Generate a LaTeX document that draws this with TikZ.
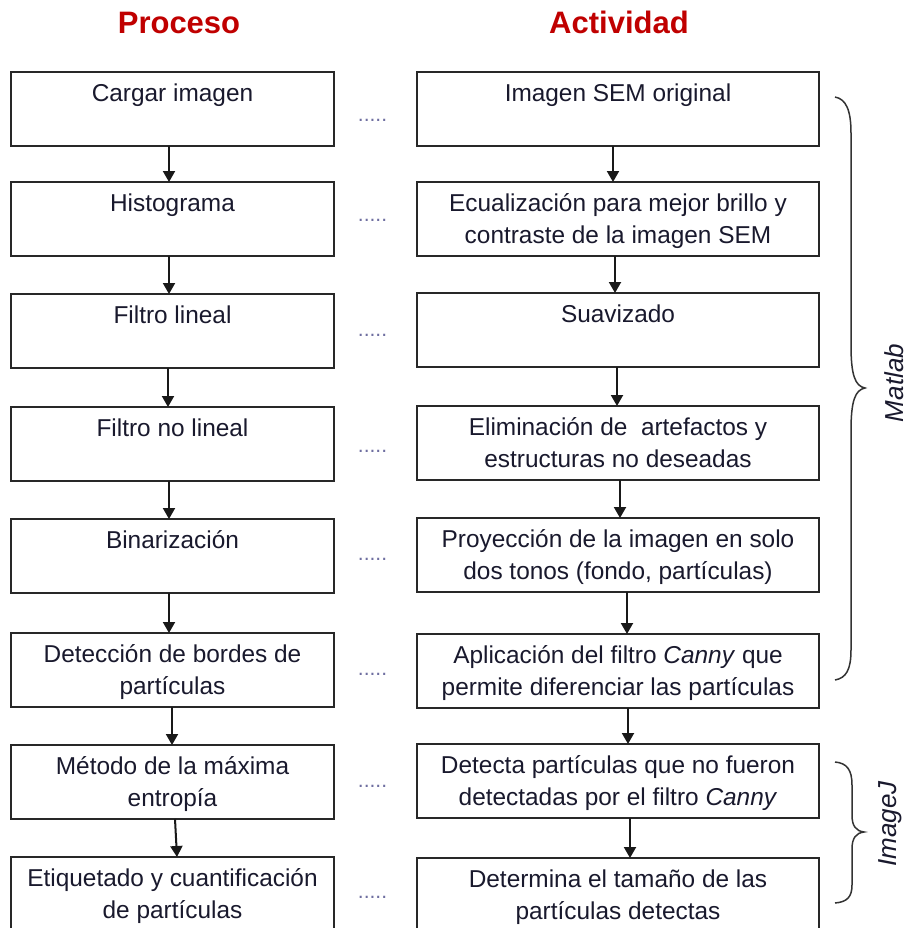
\documentclass[tikz,border=0pt]{standalone}
\usepackage{fontspec}
\setmainfont{Liberation Sans}
\usetikzlibrary{arrows.meta}
\definecolor{titlered}{RGB}{192,0,0}
\definecolor{boxline}{RGB}{40,40,40}
\definecolor{txt}{RGB}{25,25,45}
\definecolor{dotc}{RGB}{110,110,160}
\newcommand\bt[2]{\parbox[c][37pt][t]{#1}{\centering\fontsize{12.2pt}{16pt}\selectfont\rule{0pt}{14.8pt}#2\par}}
\newcommand\lt[1]{\bt{161.5pt}{#1}}
\newcommand\rt[1]{\bt{201pt}{#1}}
\tikzset{
  box/.style={draw=boxline, line width=1pt, inner sep=0pt, outer sep=0pt, text=txt, fill=white},
  arr/.style={-{Triangle[width=6pt,length=5.5pt]}, line width=1pt, draw=black!90},
  ttl/.style={anchor=base, text=titlered, font=\fontsize{15.5pt}{18pt}\selectfont\bfseries},
  dots/.style={anchor=base, text=dotc, font=\fontsize{10.5pt}{12pt}\selectfont, inner sep=0pt},
  brc/.style={draw=black!80, line width=0.75pt},
  tool/.style={anchor=base, rotate=90, inner sep=0pt, text=txt, font=\fontsize{13pt}{15pt}\selectfont\itshape}
}
\begin{document}
\begin{tikzpicture}[x=0.5pt,y=-0.5pt]
\useasboundingbox (0,0) rectangle (906,928);
\fill[white] (0,0) rectangle (906,928);

% titles
\node[ttl] (tp) at (179,33) {Proceso};
\node[ttl] (ta) at (619,33) {Actividad};

% left column
\node[box] (l1) at (172.5,109) {\lt{Cargar imagen}};
\node[box] (l2) at (172.5,219) {\lt{Histograma}};
\node[box] (l3) at (172.5,331) {\lt{Filtro lineal}};
\node[box] (l4) at (172.5,444) {\lt{Filtro no lineal}};
\node[box] (l5) at (172.5,556) {\lt{Binarización}};
\node[box] (l6) at (172.5,670) {\lt{Detección de bordes de\\partículas}};
\node[box] (l7) at (172.5,782) {\lt{Método de la máxima\\entropía}};
\node[box] (l8) at (172.5,894) {\lt{Etiquetado y cuantificación\\de partículas}};

% right column
\node[box] (r1) at (618,109) {\rt{Imagen SEM original}};
\node[box] (r2) at (618,219) {\rt{Ecualización para mejor brillo y\\contraste de la imagen SEM}};
\node[box] (r3) at (618,330) {\rt{Suavizado}};
\node[box] (r4) at (618,443) {\rt{Eliminación de\ \ artefactos y\\estructuras no deseadas}};
\node[box] (r5) at (618,555) {\rt{Proyección de la imagen en solo\\dos tonos (fondo, partículas)}};
\node[box] (r6) at (618,671) {\rt{Aplicación del filtro \textit{Canny} que\\permite diferenciar las partículas}};
\node[box] (r7) at (618,781) {\rt{Detecta partículas que no fueron\\detectadas por el filtro \textit{Canny}}};
\node[box] (r8) at (618,895) {\rt{Determina el tamaño de las\\partículas detectas}};

% dotted separators
\node[dots] (d1) at (372.5,121) {.....};
\node[dots] (d2) at (372.5,221) {.....};
\node[dots] (d3) at (372.5,336) {.....};
\node[dots] (d4) at (372.5,452) {.....};
\node[dots] (d5) at (372.5,560) {.....};
\node[dots] (d6) at (372.5,675) {.....};
\node[dots] (d7) at (372.5,787) {.....};
\node[dots] (d8) at (372.5,898) {.....};

% left arrows
\draw[arr] ([xshift=-1.75pt]l1.south) -- ([xshift=-1.75pt]l2.north);
\draw[arr] ([xshift=-1.75pt]l2.south) -- ([xshift=-1.75pt]l3.north);
\draw[arr] ([xshift=-2.25pt]l3.south) -- ([xshift=-2.25pt]l4.north);
\draw[arr] ([xshift=-1.75pt]l4.south) -- ([xshift=-1.75pt]l5.north);
\draw[arr] ([xshift=-1.75pt]l5.south) -- ([xshift=-1.75pt]l6.north);
\draw[arr] ([xshift=-0.25pt]l6.south) -- ([xshift=-0.25pt]l7.north);
\draw[arr] ([xshift=1.25pt]l7.south) -- ([xshift=2.25pt]l8.north);

% right arrows
\draw[arr] ([xshift=-2.5pt]r1.south) -- ([xshift=-2.5pt]r2.north);
\draw[arr] ([xshift=-1.5pt]r2.south) -- ([xshift=-1.5pt]r3.north);
\draw[arr] ([xshift=-0.5pt]r3.south) -- ([xshift=-0.5pt]r4.north);
\draw[arr] ([xshift=1pt]r4.south) -- ([xshift=1pt]r5.north);
\draw[arr] ([xshift=4.5pt]r5.south) -- ([xshift=4.5pt]r6.north);
\draw[arr] ([xshift=5pt]r6.south) -- ([xshift=5pt]r7.north);
\draw[arr] ([xshift=6pt]r7.south) -- ([xshift=6pt]r8.north);

% braces
\draw[brc] (835,97) .. controls (846,99) and (851,110) .. (851,133)
  -- (851,345) .. controls (851,375) and (855,386) .. (865,388)
  .. controls (855,390) and (851,401) .. (851,431)
  -- (851,650) .. controls (851,670) and (846,678) .. (835,680);
\draw[brc] (835,762) .. controls (847,763) and (852,770) .. (852,785)
  -- (852,815) .. controls (852,826) and (856,831) .. (864,832)
  .. controls (856,833) and (852,838) .. (852,849)
  -- (852,885) .. controls (852,897) and (847,902) .. (835,903);

\node[tool] (mat) at (903,383) {Matlab};
\node[tool] (ij) at (896,824) {ImageJ};
\end{tikzpicture}
\end{document}
